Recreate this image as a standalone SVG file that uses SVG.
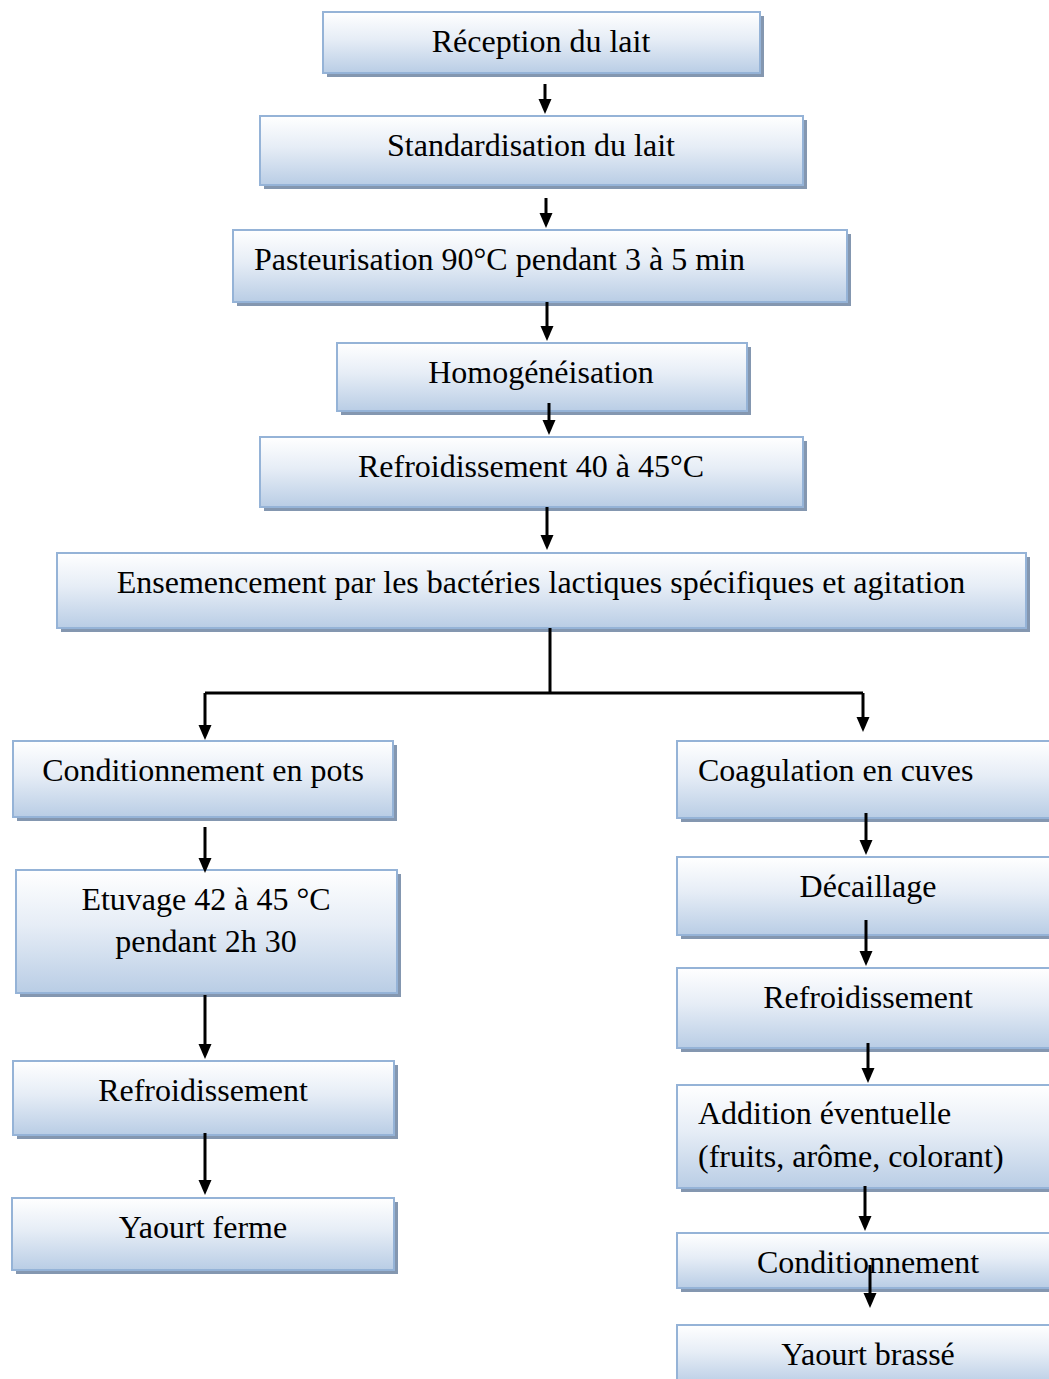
<svg xmlns="http://www.w3.org/2000/svg" width="1049" height="1379" viewBox="0 0 1049 1379">
<defs>
<linearGradient id="g" x1="0" y1="0" x2="0" y2="1">
<stop offset="0" stop-color="#ffffff"/>
<stop offset="0.45" stop-color="#e6edf6"/>
<stop offset="1" stop-color="#b9cde5"/>
</linearGradient>
</defs>
<style>
.b{fill:url(#g);stroke:#95b3d7;stroke-width:2}
.s{fill:#8497b0}
.t{font-family:"Liberation Serif","Times New Roman",serif;font-size:32px;fill:#000}
.c{text-anchor:middle}
.l{stroke:#000;stroke-width:3;fill:none}
.h{fill:#000}
</style>
<rect width="1049" height="1379" fill="#fff"/>
<g id="n1"><rect class="s" x="327" y="16" width="437" height="61"/><rect class="b" x="323" y="12" width="437" height="61"/><text class="t c" x="541" y="52">Réception du lait</text></g>
<g id="n2"><rect class="s" x="264" y="120" width="543" height="69"/><rect class="b" x="260" y="116" width="543" height="69"/><text class="t c" x="531" y="156">Standardisation du lait</text></g>
<g id="n3"><rect class="s" x="237" y="234" width="614" height="72"/><rect class="b" x="233" y="230" width="614" height="72"/><text class="t" x="254" y="270">Pasteurisation 90°C pendant 3 à 5 min</text></g>
<g id="n4"><rect class="s" x="341" y="347" width="410" height="68"/><rect class="b" x="337" y="343" width="410" height="68"/><text class="t c" x="541" y="383">Homogénéisation</text></g>
<g id="n5"><rect class="s" x="264" y="441" width="543" height="70"/><rect class="b" x="260" y="437" width="543" height="70"/><text class="t c" x="531" y="477">Refroidissement 40 à 45°C</text></g>
<g id="n6"><rect class="s" x="61" y="557" width="969" height="75"/><rect class="b" x="57" y="553" width="969" height="75"/><text class="t c" x="541" y="593">Ensemencement par les bactéries lactiques spécifiques et agitation</text></g>
<g id="l1"><rect class="s" x="17" y="745" width="380" height="76"/><rect class="b" x="13" y="741" width="380" height="76"/><text class="t c" x="203" y="781">Conditionnement en pots</text></g>
<g id="l2"><rect class="s" x="20" y="874" width="381" height="123"/><rect class="b" x="16" y="870" width="381" height="123"/><text class="t c" x="206" y="910">Etuvage 42 à 45 °C</text><text class="t c" x="206" y="952">pendant 2h 30</text></g>
<g id="l3"><rect class="s" x="17" y="1065" width="381" height="74"/><rect class="b" x="13" y="1061" width="381" height="74"/><text class="t c" x="203" y="1101">Refroidissement</text></g>
<g id="l4"><rect class="s" x="16" y="1202" width="382" height="72"/><rect class="b" x="12" y="1198" width="382" height="72"/><text class="t c" x="203" y="1238">Yaourt ferme</text></g>
<g id="r1"><rect class="s" x="681" y="745" width="380" height="77"/><rect class="b" x="677" y="741" width="380" height="77"/><text class="t" x="698" y="781">Coagulation en cuves</text></g>
<g id="r2"><rect class="s" x="681" y="861" width="380" height="78"/><rect class="b" x="677" y="857" width="380" height="78"/><text class="t c" x="868" y="897">Décaillage</text></g>
<g id="r3"><rect class="s" x="681" y="972" width="380" height="80"/><rect class="b" x="677" y="968" width="380" height="80"/><text class="t c" x="868" y="1008">Refroidissement</text></g>
<g id="r4"><rect class="s" x="681" y="1089" width="380" height="103"/><rect class="b" x="677" y="1085" width="380" height="103"/><text class="t" x="698" y="1124">Addition éventuelle</text><text class="t" x="698" y="1167">(fruits, arôme, colorant)</text></g>
<g id="r5"><rect class="s" x="681" y="1237" width="380" height="55"/><rect class="b" x="677" y="1233" width="380" height="55"/><text class="t c" x="868" y="1273">Conditionnement</text></g>
<g id="r6"><rect class="s" x="681" y="1329" width="380" height="60"/><rect class="b" x="677" y="1325" width="380" height="60"/><text class="t c" x="868" y="1365">Yaourt brassé</text></g>
<g id="connectors">
<path class="l" d="M545 84V102"/><path class="h" d="M538.5 99H551.5L545 114Z"/>
<path class="l" d="M546 198V216"/><path class="h" d="M539.5 213H552.5L546 228Z"/>
<path class="l" d="M547 302V329"/><path class="h" d="M540.5 326H553.5L547 341Z"/>
<path class="l" d="M549 403V423"/><path class="h" d="M542.5 420H555.5L549 435Z"/>
<path class="l" d="M547 507L547 538"/><path class="h" d="M540.5 535H553.5L547 550Z"/>
<path class="l" d="M550 628V693M205 693H863M205 693V728M863 693V720"/>
<path class="h" d="M198.5 725H211.5L205 740Z"/><path class="h" d="M856.5 717H869.5L863 732Z"/>
<path class="l" d="M205 827V861"/><path class="h" d="M198.5 858H211.5L205 873Z"/>
<path class="l" d="M205 995V1047"/><path class="h" d="M198.5 1044H211.5L205 1059Z"/>
<path class="l" d="M205 1133V1183"/><path class="h" d="M198.5 1180H211.5L205 1195Z"/>
<path class="l" d="M866 813V843"/><path class="h" d="M859.5 840H872.5L866 855Z"/>
<path class="l" d="M866 920V954"/><path class="h" d="M859.5 951H872.5L866 966Z"/>
<path class="l" d="M868 1043V1071"/><path class="h" d="M861.5 1068H874.5L868 1083Z"/>
<path class="l" d="M865 1186V1219"/><path class="h" d="M858.5 1216H871.5L865 1231Z"/>
<path class="l" d="M870 1265V1296"/><path class="h" d="M863.5 1293H876.5L870 1308Z"/>
</g>
</svg>
